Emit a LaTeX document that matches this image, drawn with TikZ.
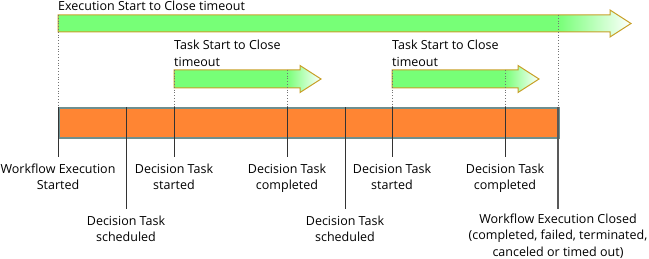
\documentclass[tikz,border=0pt]{standalone}
\usepackage{fontspec}
\setmainfont{Open Sans}
\usetikzlibrary{positioning}
\definecolor{timeoutgreen}{RGB}{119,255,119}
\definecolor{timeoutedge}{RGB}{200,160,40}
\definecolor{runorange}{RGB}{255,133,51}
\definecolor{runedge}{RGB}{110,143,143}
\tikzset{
  txt/.style={font=\fontsize{12.5}{16.5}\selectfont},
  caption/.style={txt,anchor=west,align=left,inner sep=0pt},
  event/.style={txt,anchor=north,align=center,inner sep=0pt,yshift=-6.5pt},
  tick/.style={draw=black!80,line width=1pt,shorten >=6.5pt},
  guide/.style={draw=black!55,dotted,line width=0.8pt},
  timeout/.style={draw=timeoutedge,line width=1pt,line join=miter}
}
\begin{document}
\begin{tikzpicture}[x=1pt,y=-1pt]
  \useasboundingbox (0,0) rectangle (649,259);
  % execution timeout
  \fill[timeoutgreen] (58,15) rectangle (558,32);
  \shade[left color=timeoutgreen,right color=white] (558,15) -- (610,15) -- (610,10) -- (631,23.5) -- (610,37) -- (610,32) -- (558,32) -- cycle;
  \draw[timeout] (58,15) -- (610,15) -- (610,10) -- (631,23.5) -- (610,37) -- (610,32) -- (58,32) -- cycle;
  \node (exec) [caption] at (58,6) {Execution Start to Close timeout};
  % task timeouts
  \foreach \s/\e/\n in {174/287/a,392/505/b}{
    \fill[timeoutgreen] (\s,70) rectangle (\e,88);
    \shade[left color=timeoutgreen,right color=white] (\e,70) -- (\e+13,70) -- (\e+13,65.5) -- (\e+34,79) -- (\e+13,92.5) -- (\e+13,88) -- (\e,88) -- cycle;
    \draw[timeout] (\s,70) -- (\e+13,70) -- (\e+13,65.5) -- (\e+34,79) -- (\e+13,92.5) -- (\e+13,88) -- (\s,88) -- cycle;
    \node (task-\n) [caption,anchor=north west] at (\s,40) {Task Start to Close\\timeout};
    \draw[guide] (\s,70) -- (\s,107);
    \draw[guide] (\e,70) -- (\e,107);
  }
  \draw[guide] (58,15) -- (58,107);
  \draw[guide] (558,15) -- (558,107);
  % workflow run
  \node (run) [fill=runorange,draw=runedge,line width=1.5pt,minimum width=500pt,minimum height=30pt,inner sep=0pt,anchor=north west] at (58,107.5) {};
  \foreach \x/\y/\n/\t in {58/157/ws/{Workflow Execution\\Started},
                           126/209/s1/{Decision Task\\scheduled},
                           174/157/b1/{Decision Task\\started},
                           287/157/c1/{Decision Task\\completed},
                           345/209/s2/{Decision Task\\scheduled},
                           392/157/b2/{Decision Task\\started},
                           505/157/c2/{Decision Task\\completed}}{
    \coordinate (t-\n) at (\x,107.5);
    \node (l-\n) [event] at (\x,\y) {\t};
    \draw[tick] (t-\n) -- (l-\n);
  }
  \coordinate (t-wc) at (558,107.5);
  \node (l-wc) [event,yshift=2pt] at (558,209) {Workflow Execution Closed\\(completed, failed, terminated,\\canceled or timed out)};
  \draw[tick,draw=black!65,line width=2pt,shorten >=4.5pt] (t-wc) -- (l-wc);
\end{tikzpicture}
\end{document}
